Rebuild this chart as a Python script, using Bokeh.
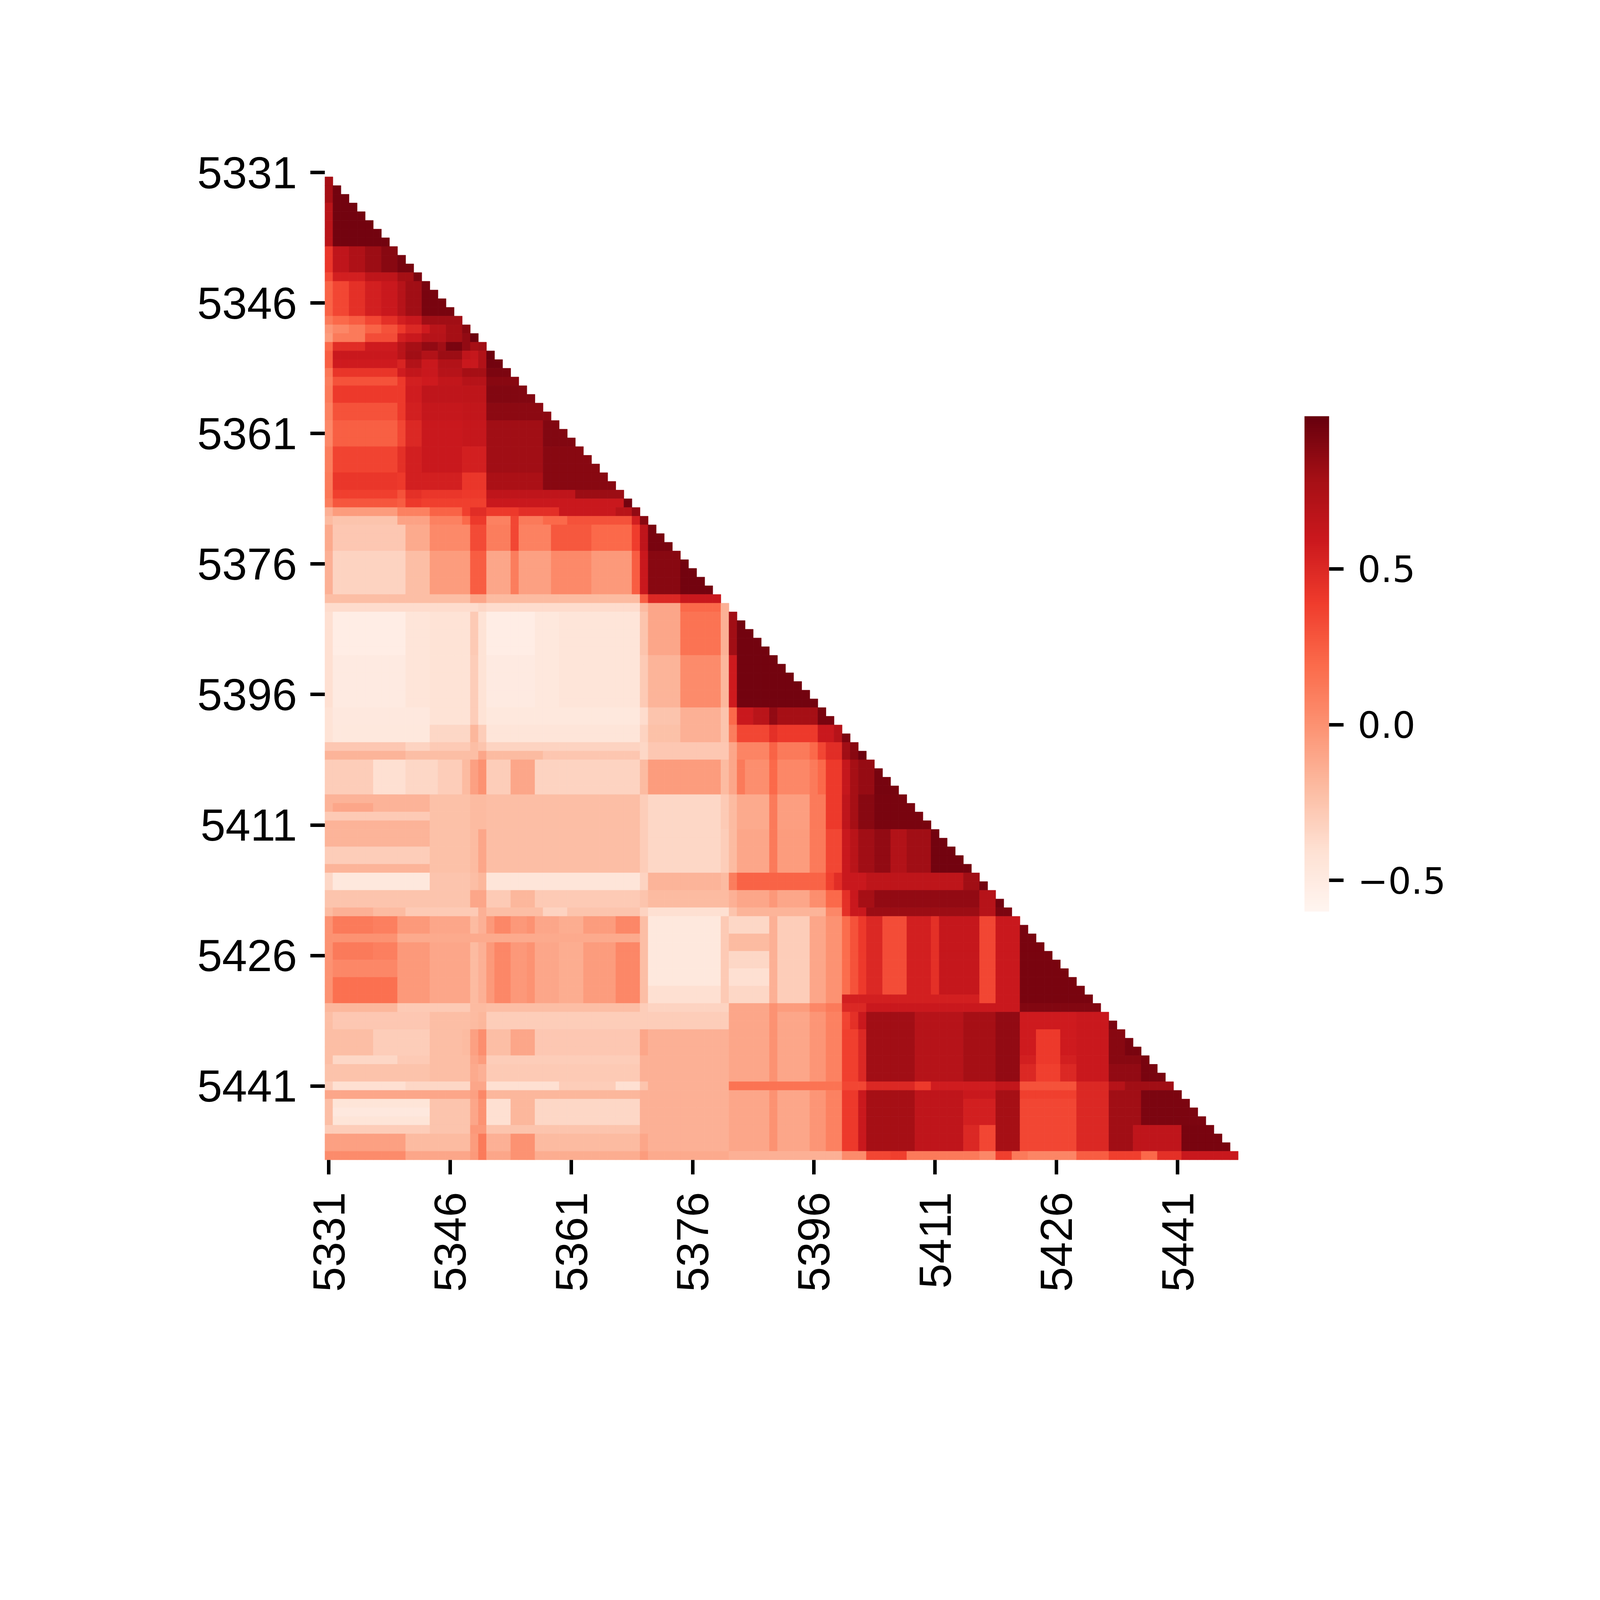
import math
import numpy as np
from bokeh.plotting import figure
from bokeh.models import ColumnDataSource, LinearColorMapper, ColorBar, FixedTicker, Range1d
from bokeh.palettes import Reds256
from bokeh.transform import transform
from bokeh.embed import file_html
from bokeh.resources import INLINE

# ---------------- data ----------------
n_vars = 114
tick_index = [0, 15, 30, 45, 60, 75, 90, 105]
tick_labels = ["5331", "5346", "5361", "5376", "5396", "5411", "5426", "5441"]

# each band: rows band_first..band_last; within a row, segment k starts at
# column band_starts[k] and runs to the next start (or to the diagonal)
band_first = [1, 4, 9, 12, 13, 17, 18, 19, 20, 21, 22, 23, 24, 25, 27, 29, 32, 35, 37, 38,
              39, 40, 41, 44, 49,
              50, 51, 56, 62, 64, 66, 67, 68, 72, 76, 81, 83, 85, 86, 96, 97, 99, 102, 103,
              105, 106, 107, 110, 111, 113]
band_last = [3, 8, 11, 12, 16, 17, 18, 19, 20, 21, 22, 23, 24, 26, 28, 31, 34, 36, 37, 38,
             39, 40, 43, 48, 49,
             50, 55, 61, 63, 65, 66, 67, 71, 75, 80, 82, 84, 85, 95, 96, 98, 101, 102, 104,
             105, 106, 109, 110, 112, 113]
band_starts = [
    [0, 1],
    [0, 1],
    [0, 1, 3, 5, 7, 9],
    [0, 1, 5, 9, 11],
    [0, 1, 3, 5, 7, 9, 10, 12],
    [0, 1, 3, 5, 7, 9, 10, 12],
    [0, 1, 3, 5, 7, 9, 10, 12, 13, 15, 17],
    [0, 1, 5, 9, 10, 12, 15, 17, 18],
    [0, 1, 5, 9, 10, 12, 14, 15, 17, 18, 19],
    [0, 1, 9, 10, 12, 14, 17, 18, 19, 20],
    [0, 1, 9, 10, 12, 14, 17, 19, 20],
    [0, 1, 9, 10, 12, 14, 17, 20],
    [0, 1, 9, 10, 12, 14, 17, 20],
    [0, 1, 10, 12, 17, 20],
    [0, 1, 9, 10, 12, 17, 20],
    [0, 1, 9, 10, 12, 17, 20, 27],
    [0, 1, 9, 10, 12, 17, 20, 27],
    [0, 1, 9, 10, 12, 17, 20, 27],
    [0, 1, 9, 10, 12, 17, 20, 31],
    [0, 1, 9, 10, 12, 17, 20, 37],
    [0, 1, 9, 13, 17, 18, 20, 24, 29, 36, 38],
    [0, 1, 9, 13, 17, 18, 20, 23, 24, 27, 30, 38, 39],
    [0, 1, 10, 13, 18, 20, 23, 24, 28, 33, 38, 39, 40],
    [0, 1, 10, 13, 18, 20, 23, 24, 28, 33, 38, 39, 40, 44],
    [0, 18, 20, 39, 40, 44],
    [0, 19, 20, 39, 40, 44, 49],
    [0, 1, 10, 13, 18, 19, 20, 26, 29, 39, 40, 44, 49, 50, 51],
    [0, 1, 10, 13, 18, 19, 20, 26, 29, 39, 40, 44, 49, 50, 51],
    [0, 1, 13, 18, 19, 20, 39, 40, 44, 49, 50, 51, 53, 55, 56, 61],
    [0, 1, 13, 18, 19, 20, 39, 40, 44, 49, 50, 51, 55, 56, 61, 63, 64],
    [0, 10, 13, 18, 19, 20, 39, 40, 50, 51, 55, 56, 60, 61, 62, 64, 65],
    [0, 10, 19, 20, 27, 39, 40, 50, 51, 55, 56, 60, 61, 62, 64, 65, 66],
    [0, 6, 10, 14, 17, 18, 19, 20, 23, 26, 39, 40, 49, 50, 51, 52, 55, 56, 60, 61, 62, 64, 65, 66, 68],
    [0, 13, 18, 20, 39, 40, 49, 50, 51, 55, 56, 60, 62, 64, 65, 66, 68],
    [0, 13, 18, 19, 20, 39, 40, 49, 50, 51, 55, 56, 60, 62, 64, 65, 66, 68, 70, 72, 75],
    [0, 1, 13, 18, 19, 20, 39, 40, 49, 50, 51, 62, 63, 64, 67, 79, 81],
    [0, 18, 20, 23, 26, 39, 40, 50, 51, 55, 56, 60, 62, 64, 65, 66, 68, 81, 83],
    [0, 1, 6, 10, 19, 20, 27, 30, 39, 40, 50, 51, 62, 64, 65, 67, 81, 83],
    [0, 1, 6, 9, 13, 18, 19, 20, 21, 23, 25, 26, 29, 32, 36, 39, 40, 49, 50, 55, 56, 60, 62,
     64, 65, 66, 67, 69, 72, 75, 76, 81, 83, 86],
    [0, 9, 18, 20, 39, 40, 50, 55, 56, 60, 62, 64, 67, 81, 86],
    [0, 1, 13, 18, 19, 20, 39, 40, 50, 55, 56, 60, 62, 64, 65, 66, 67, 73, 79, 83, 86, 93, 97],
    [0, 6, 13, 17, 18, 19, 20, 23, 26, 39, 40, 50, 55, 56, 60, 62, 64, 66, 67, 73, 79, 83, 86,
     88, 91, 93, 97, 99],
    [0, 1, 9, 13, 18, 19, 20, 39, 50, 55, 56, 60, 62, 64, 66, 67, 73, 79, 83, 86, 88, 91, 93, 97, 101],
    [0, 13, 18, 19, 20, 39, 50, 55, 56, 60, 62, 64, 66, 67, 73, 79, 83, 86, 88, 91, 93, 97, 101],
    [0, 1, 10, 18, 20, 29, 36, 39, 40, 50, 64, 67, 73, 75, 83, 86, 93, 97, 99],
    [0, 18, 19, 20, 39, 50, 55, 56, 60, 62, 64, 66, 67, 73, 79, 83, 86, 93, 97, 101],
    [0, 1, 13, 18, 19, 20, 23, 26, 39, 50, 55, 56, 60, 62, 64, 66, 67, 73, 79, 83, 86, 93, 97, 101],
    [0, 13, 18, 20, 39, 50, 55, 56, 60, 62, 64, 66, 67, 73, 79, 81, 83, 86, 93, 97, 100, 106],
    [0, 10, 18, 19, 20, 23, 26, 39, 40, 50, 55, 56, 60, 62, 64, 66, 67, 73, 79, 81, 83, 86, 93,
     97, 100, 106],
    [0, 10, 18, 19, 20, 23, 26, 39, 40, 50, 64, 67, 70, 72, 81, 83, 85, 87, 93, 97, 101, 103, 106],
]
band_values = [
    [0.78, 0.95],
    [0.68, 0.95],
    [0.42, 0.65, 0.74, 0.82, 0.88, 0.94],
    [0.33, 0.55, 0.66, 0.78, 0.92],
    [0.22, 0.35, 0.45, 0.55, 0.60, 0.70, 0.80, 0.93],
    [0.12, 0.20, 0.25, 0.35, 0.45, 0.55, 0.60, 0.80],
    [-0.02, 0.05, 0.12, 0.22, 0.30, 0.40, 0.50, 0.58, 0.68, 0.78, 0.88],
    [-0.05, 0.12, 0.32, 0.55, 0.60, 0.70, 0.78, 0.85, 0.97],
    [0.20, 0.47, 0.58, 0.68, 0.78, 0.85, 0.80, 0.93, 0.85, 0.78, 0.80],
    [0.25, 0.60, 0.68, 0.80, 0.72, 0.82, 0.65, 0.62, 0.72, 0.97],
    [0.24, 0.58, 0.52, 0.72, 0.60, 0.72, 0.60, 0.72, 0.95],
    [0.13, 0.43, 0.57, 0.64, 0.60, 0.70, 0.78, 0.92],
    [0.10, 0.30, 0.40, 0.55, 0.58, 0.64, 0.70, 0.88],
    [0.12, 0.40, 0.57, 0.65, 0.66, 0.90],
    [0.08, 0.30, 0.40, 0.55, 0.62, 0.64, 0.87],
    [0.05, 0.24, 0.35, 0.50, 0.60, 0.62, 0.80, 0.90],
    [0.10, 0.36, 0.45, 0.55, 0.60, 0.55, 0.80, 0.88],
    [0.12, 0.42, 0.40, 0.55, 0.55, 0.42, 0.76, 0.88],
    [0.13, 0.38, 0.30, 0.45, 0.42, 0.40, 0.65, 0.82],
    [0.10, 0.28, 0.25, 0.40, 0.38, 0.38, 0.60, 0.95],
    [-0.15, -0.05, 0.08, 0.22, 0.38, 0.47, 0.40, 0.46, 0.60, 0.68, 0.85],
    [-0.20, -0.25, -0.08, 0.08, 0.20, 0.40, 0.08, 0.35, 0.12, 0.20, 0.30, 0.55, 0.88],
    [-0.12, -0.27, -0.12, 0.04, 0.33, 0.10, 0.35, 0.08, 0.27, 0.20, 0.39, 0.65, 0.93],
    [-0.15, -0.33, -0.22, -0.05, 0.25, -0.10, 0.10, -0.07, 0.04, -0.04, 0.25, 0.60, 0.88, 0.95],
    [-0.22, -0.10, -0.20, 0.25, 0.50, 0.60],
    [-0.38, -0.35, -0.38, -0.20, -0.10, 0.20, -0.15],
    [-0.40, -0.52, -0.45, -0.42, -0.28, -0.42, -0.52, -0.47, -0.45, -0.25, -0.10, 0.15, -0.15, 0.80, 0.95],
    [-0.40, -0.50, -0.45, -0.42, -0.30, -0.42, -0.50, -0.47, -0.45, -0.28, -0.17, 0.03, -0.18, 0.58, 0.95],
    [-0.42, -0.48, -0.42, -0.30, -0.42, -0.47, -0.38, -0.25, -0.15, -0.25, 0.20, 0.60, 0.68, 0.85, 0.78, 0.93],
    [-0.42, -0.47, -0.35, -0.18, -0.30, -0.45, -0.33, -0.23, -0.15, -0.25, 0.10, 0.35, 0.45, 0.40, 0.60, 0.70, 0.92],
    [-0.27, -0.33, -0.28, -0.22, -0.25, -0.33, -0.35, -0.27, -0.10, 0.07, 0.22, 0.12, 0.20, 0.35, 0.47, 0.80, 0.88],
    [-0.17, -0.22, -0.10, -0.20, -0.26, -0.35, -0.27, -0.10, 0.07, 0.22, 0.12, 0.20, 0.35, 0.47, 0.80, 0.88, 0.97],
    [-0.30, -0.40, -0.35, -0.30, -0.20, -0.07, 0.00, -0.30, -0.10, -0.33, -0.20, -0.05, -0.20, -0.10, 0.12,
     0.02, 0.20, 0.05, 0.12, 0.20, 0.40, 0.62, 0.78, 0.84, 0.94],
    [-0.16, -0.23, -0.20, -0.22, -0.30, -0.35, -0.28, -0.20, -0.12, 0.12, -0.06, 0.12, 0.40, 0.65, 0.78, 0.88, 0.93],
    [-0.17, -0.23, -0.20, -0.10, -0.22, -0.30, -0.35, -0.30, -0.20, -0.10, 0.12, -0.05, 0.12, 0.35, 0.60,
     0.68, 0.80, 0.85, 0.72, 0.80, 0.95],
    [-0.35, -0.47, -0.25, -0.22, -0.18, -0.45, -0.33, -0.17, -0.20, 0.10, 0.22, 0.38, 0.47, 0.60, 0.66, 0.80, 0.95],
    [-0.25, -0.10, -0.28, -0.18, -0.28, -0.25, -0.20, -0.15, -0.10, -0.03, -0.10, 0.02, 0.20, 0.45, 0.60,
     0.78, 0.85, 0.70, 0.95],
    [-0.20, -0.15, -0.20, -0.28, -0.15, -0.22, -0.33, -0.25, -0.33, -0.40, -0.25, -0.17, 0.05, 0.45, 0.60,
     0.82, 0.70, 0.92],
    [0.00, 0.12, 0.09, -0.04, -0.10, -0.20, -0.15, -0.04, 0.05, -0.03, 0.00, -0.10, -0.13, -0.05, 0.05,
     -0.22, -0.47, -0.28, -0.35, -0.15, -0.30, -0.10, 0.00, 0.18, 0.30, 0.40, 0.50, 0.32, 0.55, 0.45, 0.62,
     0.35, 0.60, 0.93],
    [-0.18, -0.28, -0.20, -0.22, -0.30, -0.33, -0.10, 0.00, -0.05, 0.05, 0.12, 0.50, 0.60, 0.60, 0.90],
    [-0.22, -0.27, -0.22, -0.20, -0.18, -0.30, -0.30, -0.30, -0.10, 0.00, -0.10, -0.02, 0.08, 0.36, 0.45,
     0.60, 0.80, 0.70, 0.78, 0.85, 0.58, 0.60, 0.92],
    [-0.22, -0.30, -0.22, -0.20, -0.07, 0.02, -0.22, -0.10, -0.27, -0.10, -0.15, -0.10, 0.00, -0.10, -0.02,
     0.08, 0.38, 0.50, 0.80, 0.70, 0.78, 0.85, 0.58, 0.40, 0.58, 0.60, 0.88, 0.93],
    [-0.22, -0.35, -0.28, -0.22, -0.10, -0.05, -0.30, -0.15, -0.10, 0.00, -0.10, -0.02, 0.08, 0.38, 0.50,
     0.80, 0.70, 0.78, 0.85, 0.55, 0.40, 0.55, 0.60, 0.88, 0.93],
    [-0.24, -0.22, -0.12, -0.15, -0.28, -0.15, -0.10, 0.00, -0.10, -0.02, 0.08, 0.38, 0.50, 0.80, 0.70,
     0.78, 0.85, 0.50, 0.38, 0.50, 0.60, 0.85, 0.93],
    [-0.30, -0.40, -0.35, -0.10, -0.40, -0.30, -0.40, -0.25, -0.15, 0.15, 0.35, 0.50, 0.40, 0.57, 0.64,
     0.30, 0.50, 0.70, 0.80],
    [-0.10, -0.07, 0.05, -0.18, -0.15, -0.10, 0.00, -0.10, -0.02, 0.08, 0.40, 0.60, 0.78, 0.65, 0.60,
     0.78, 0.38, 0.50, 0.80, 0.92],
    [-0.22, -0.44, -0.25, -0.10, 0.00, -0.40, -0.18, -0.35, -0.15, -0.10, 0.00, -0.10, -0.02, 0.08, 0.40,
     0.60, 0.78, 0.65, 0.55, 0.78, 0.35, 0.50, 0.80, 0.92],
    [-0.30, -0.25, -0.03, -0.25, -0.15, -0.10, 0.00, -0.10, -0.02, 0.08, 0.40, 0.60, 0.78, 0.65, 0.50,
     0.35, 0.78, 0.35, 0.50, 0.80, 0.65, 0.93],
    [-0.07, -0.20, -0.05, 0.12, -0.15, 0.00, -0.20, -0.10, -0.15, -0.10, 0.00, -0.10, -0.02, 0.08, 0.40,
     0.60, 0.78, 0.65, 0.50, 0.35, 0.78, 0.35, 0.50, 0.80, 0.65, 0.93],
    [0.03, -0.10, -0.04, 0.12, -0.10, 0.00, -0.13, -0.05, -0.12, -0.15, 0.03, 0.35, 0.38, 0.12, 0.05,
     0.38, 0.12, 0.06, 0.25, 0.38, 0.20, 0.45, 0.60],
]

# local corrections: rows tweak_r0..tweak_r1, columns tweak_c0..tweak_c1 set to tweak_val
tweak_r0 = [88, 88, 91, 93, 88, 92, 94, 73, 74, 78, 108, 95]
tweak_r1 = [88, 88, 92, 95, 89, 93, 95, 73, 74, 79, 108, 95]
tweak_c0 = [1, 9, 1, 1, 50, 50, 40, 1, 0, 0, 1, 64]
tweak_c1 = [8, 38, 8, 8, 54, 54, 48, 5, 12, 12, 12, 80]
tweak_val = [0.00, -0.12, 0.05, 0.17, -0.20, -0.40, -0.40, -0.10, -0.28, -0.30, -0.48, 0.55]

# colour scale limits
scale_low = -0.6
scale_high = 0.99
cbar_ticks = [-0.5, 0.0, 0.5]
cbar_labels = ["\u22120.5", "0.0", "0.5"]

# ---------------- build the lower-triangular matrix ----------------
mat = np.full((n_vars, n_vars), np.nan)
for r0, r1, starts, vals in zip(band_first, band_last, band_starts, band_values):
    for r in range(r0, r1 + 1):
        for k, (c0, v) in enumerate(zip(starts, vals)):
            c1 = starts[k + 1] - 1 if k + 1 < len(starts) else r - 1
            c1 = min(c1, r - 1)
            if c0 <= c1:
                mat[r, c0:c1 + 1] = v
for r0, r1, c0, c1, v in zip(tweak_r0, tweak_r1, tweak_c0, tweak_c1, tweak_val):
    for r in range(r0, r1 + 1):
        hi = min(c1, r - 1)
        if c0 <= hi:
            mat[r, c0:hi + 1] = v

rows, cols, vals = [], [], []
for i in range(n_vars):
    for j in range(i):
        if not np.isnan(mat[i, j]):
            rows.append(i)
            cols.append(j)
            vals.append(float(mat[i, j]))
source = ColumnDataSource(data=dict(row=rows, col=cols, val=vals))

# ---------------- figure ----------------
fig_w, fig_h = 4080, 3633
frame_w, frame_h = 2359, 2539
left_b, top_b = 831, 430
p = figure(width=fig_w, height=fig_h, frame_width=frame_w, frame_height=frame_h,
           x_range=Range1d(-0.5, n_vars - 0.5), y_range=Range1d(n_vars - 0.5, -0.5),
           output_backend="svg", toolbar_location=None, tools="",
           min_border_left=left_b, min_border_right=fig_w - left_b - frame_w,
           min_border_top=top_b, min_border_bottom=fig_h - top_b - frame_h)
p.background_fill_color = "white"
p.border_fill_color = "white"
p.outline_line_color = None
p.grid.visible = False

mapper = LinearColorMapper(palette=list(reversed(Reds256)), low=scale_low, high=scale_high)
p.rect(x="col", y="row", width=1, height=1, source=source,
       fill_color=transform("val", mapper), line_color=transform("val", mapper), line_width=0.8)

overrides = {i: lab for i, lab in zip(tick_index, tick_labels)}
for ax in (p.xaxis[0], p.yaxis[0]):
    ax.ticker = FixedTicker(ticks=tick_index)
    ax.major_label_overrides = overrides
    ax.axis_line_color = None
    ax.minor_tick_line_color = None
    ax.major_tick_in = 0
    ax.major_tick_out = 37
    ax.major_tick_line_width = 9
    ax.major_tick_line_color = "black"
    ax.major_label_text_font = "Liberation Sans"
    ax.major_label_text_font_size = "115px"
    ax.major_label_text_color = "black"
p.yaxis.major_label_standoff = 34
p.xaxis.major_label_standoff = 45
p.xaxis.major_label_orientation = math.pi / 2

cb = ColorBar(color_mapper=mapper, width=63, height=1268, location=(149, 636),
              padding=0, margin=0,
              ticker=FixedTicker(ticks=cbar_ticks),
              major_label_overrides={t: l for t, l in zip(cbar_ticks, cbar_labels)},
              major_tick_in=0, major_tick_out=37, major_tick_line_color="black",
              major_tick_line_width=9, label_standoff=36,
              major_label_text_font="DejaVu Sans", major_label_text_font_size="93px",
              major_label_text_color="black",
              minor_tick_line_color=None, bar_line_color=None,
              background_fill_color=None, border_line_color=None)
p.add_layout(cb, "right")

open("out.html", "w").write(file_html(p, INLINE))
